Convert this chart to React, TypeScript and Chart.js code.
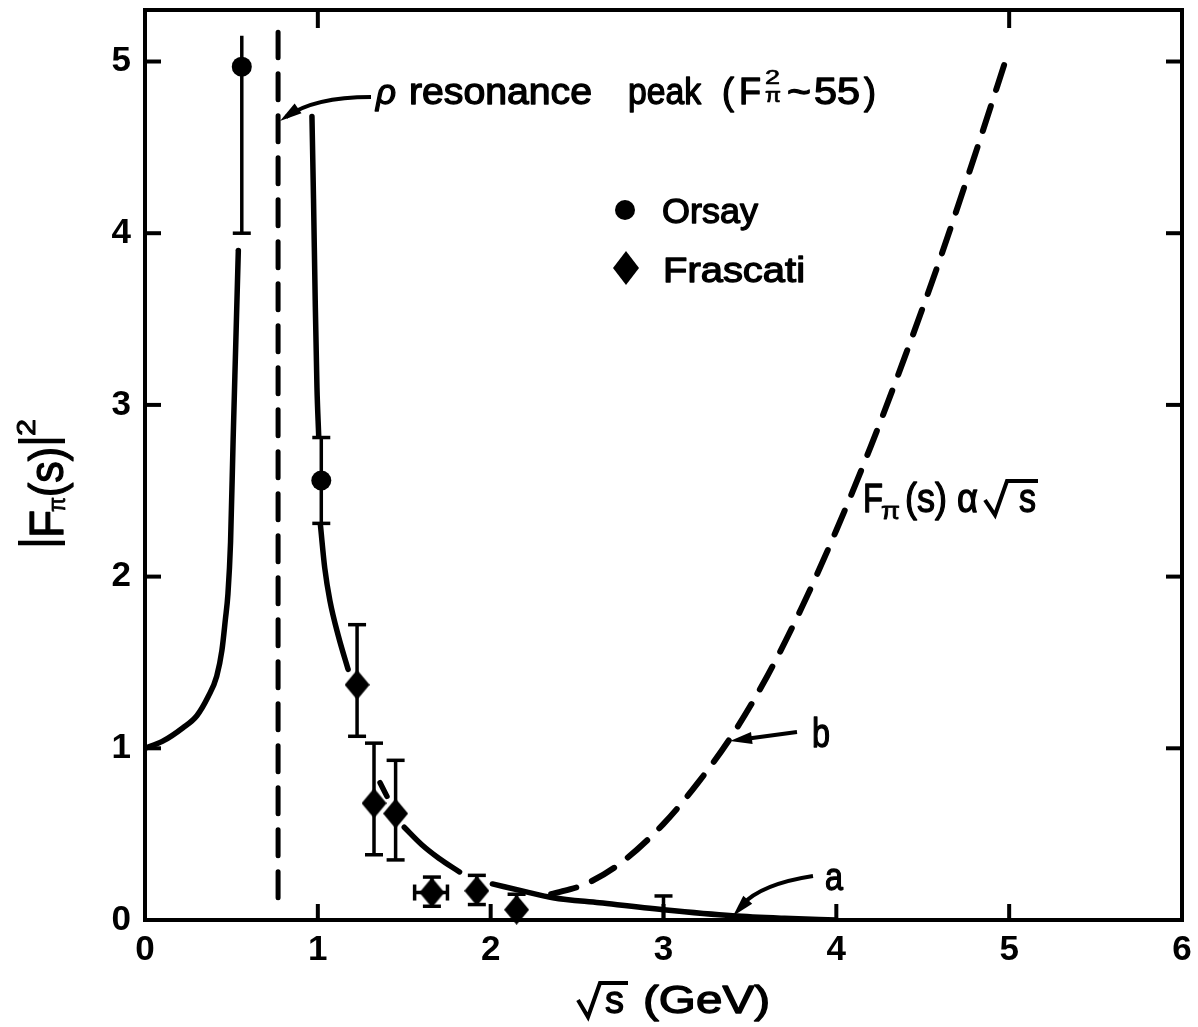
import React, { useEffect, useRef } from "react";
import { Chart, registerables } from "chart.js";
Chart.register(...registerables);

// ---- data ----
const xTickValues = [0, 1, 2, 3, 4, 5, 6];
const yTickValues = [0, 1, 2, 3, 4, 5];
const topTickValues = [1, 5];

const orsayX = [0.56, 1.02];
const orsayY = [4.97, 2.56];
const orsayLo = [4.0, 2.31];
const orsayHi = [5.15, 2.81];
const orsayTopCap = [false, true];

const frascatiX = [1.227, 1.325, 1.45, 1.66, 1.92, 2.15];
const frascatiY = [1.37, 0.68, 0.62, 0.16, 0.17, 0.06];
const frascatiLo = [1.07, 0.38, 0.35, 0.08, 0.09, 0.0];
const frascatiHi = [1.72, 1.03, 0.93, 0.25, 0.26, 0.15];
const frascatiXLo = [null, null, null, 1.56, null, null];
const frascatiXHi = [null, null, null, 1.75, null, null];

const limitX = [3.0];
const limitLo = [0.0];
const limitHi = [0.14];

const curveALeftX = [0, 0.1, 0.22, 0.3, 0.365, 0.415, 0.445, 0.465, 0.48, 0.495, 0.51, 0.525, 0.54];
const curveALeftY = [1.0, 1.04, 1.12, 1.19, 1.3, 1.42, 1.57, 1.75, 1.9, 2.2, 2.8, 3.35, 3.9];

const curveARightX = [0.966, 0.975, 0.985, 0.995, 1.005, 1.01, 1.015, 1.04, 1.07, 1.12, 1.175, 1.27, 1.36, 1.4, 1.45, 1.5, 1.6, 1.7, 1.82, 1.9, 2.01, 2.2, 2.36, 2.63, 3.0, 3.4, 3.7, 4.0];
const curveARightY = [4.68, 4.2, 3.6, 3.1, 2.82, null, 2.3, 2.05, 1.86, 1.65, 1.46, null, 0.8, 0.72, null, 0.54, 0.44, 0.36, 0.28, null, 0.21, 0.165, 0.13, 0.1, 0.06, 0.025, 0.01, 0.0];

const curveBX = [2.35, 2.55, 2.75, 3.0, 3.2, 3.4, 3.6, 3.8, 4.0, 4.2, 4.4, 4.6, 4.8, 5.0];
const curveBY = [0.15, 0.21, 0.33, 0.56, 0.8, 1.08, 1.42, 1.82, 2.27, 2.76, 3.29, 3.85, 4.45, 5.07];

const rhoPeakX = [0.77, 0.77];
const rhoPeakY = [0.13, 5.17];

const FONT = '"Liberation Sans", Arial, sans-serif';

function makeDiamond(w: number, h: number) {
  const c = document.createElement("canvas");
  c.width = w;
  c.height = h;
  const g = c.getContext("2d")!;
  g.fillStyle = "#000";
  g.beginPath();
  g.moveTo(w / 2, 0);
  g.lineTo(w, h / 2);
  g.lineTo(w / 2, h);
  g.lineTo(0, h / 2);
  g.closePath();
  g.fill();
  return c;
}

function fitText(ctx: CanvasRenderingContext2D, s: string, x: number, y: number, size: number, width?: number, italic = false, stroke = 1.3) {
  ctx.font = `${italic ? "italic " : ""}${size}px ${FONT}`;
  ctx.textAlign = "left";
  ctx.textBaseline = "alphabetic";
  const w = ctx.measureText(s).width;
  ctx.save();
  ctx.translate(x, y);
  if (width) ctx.scale(width / w, 1);
  ctx.fillText(s, 0, 0);
  if (stroke > 0) {
    ctx.lineWidth = stroke;
    ctx.lineJoin = "round";
    ctx.strokeText(s, 0, 0);
  }
  ctx.restore();
}

function seg(ctx: CanvasRenderingContext2D, x1: number, y1: number, x2: number, y2: number) {
  ctx.beginPath();
  ctx.moveTo(x1, y1);
  ctx.lineTo(x2, y2);
  ctx.stroke();
}

function arrowHead(ctx: CanvasRenderingContext2D, tx: number, ty: number, dx: number, dy: number, len: number, half: number) {
  const L = Math.hypot(dx, dy);
  const ux = dx / L, uy = dy / L;
  const bx = tx - ux * len, by = ty - uy * len;
  ctx.beginPath();
  ctx.moveTo(tx, ty);
  ctx.lineTo(bx - uy * half, by + ux * half);
  ctx.lineTo(bx + uy * half, by - ux * half);
  ctx.closePath();
  ctx.fill();
}

function radical(ctx: CanvasRenderingContext2D, x0: number, yMid: number, yBot: number, xBot: number, xTop: number, yTop: number, xEnd: number) {
  ctx.beginPath();
  ctx.moveTo(x0, yMid);
  ctx.lineTo(xBot, yBot);
  ctx.lineTo(xTop, yTop);
  ctx.lineTo(xEnd, yTop);
  ctx.stroke();
}

const decor = {
  id: "decor",
  beforeDraw(chart: any) {
    const { ctx, width, height } = chart;
    ctx.save();
    ctx.fillStyle = "#fff";
    ctx.fillRect(0, 0, width, height);
    ctx.restore();
  },
  beforeDatasetsDraw(chart: any) {
    const { ctx } = chart;
    const xs = chart.scales.x, ys = chart.scales.y;
    ctx.save();
    ctx.strokeStyle = "#000";
    ctx.lineWidth = 3.5;
    ctx.lineCap = "butt";
    const cap = 9;
    const vbar = (xv: number, lo: number, hi: number, capLo: boolean, capHi: boolean) => {
      const px = xs.getPixelForValue(xv);
      const pl = ys.getPixelForValue(lo);
      const ph = ys.getPixelForValue(hi);
      seg(ctx, px, pl, px, ph);
      if (capLo) seg(ctx, px - cap, pl, px + cap, pl);
      if (capHi) seg(ctx, px - cap, ph, px + cap, ph);
    };
    orsayX.forEach((xv, i) => vbar(xv, orsayLo[i], orsayHi[i], true, orsayTopCap[i]));
    frascatiX.forEach((xv, i) => {
      vbar(xv, frascatiLo[i], frascatiHi[i], frascatiLo[i] > 0, true);
      const xl = frascatiXLo[i], xh = frascatiXHi[i];
      if (xl !== null && xh !== null) {
        const py = ys.getPixelForValue(frascatiY[i]);
        const a = xs.getPixelForValue(xl), b = xs.getPixelForValue(xh);
        seg(ctx, a, py, b, py);
        seg(ctx, a, py - 8, a, py + 8);
        seg(ctx, b, py - 8, b, py + 8);
      }
    });
    limitX.forEach((xv, i) => vbar(xv, limitLo[i], limitHi[i], false, true));
    ctx.restore();
  },
  afterDraw(chart: any) {
    const { ctx, chartArea } = chart;
    const xs = chart.scales.x, ys = chart.scales.y;
    const { left, right, top, bottom } = chartArea;
    ctx.save();
    ctx.strokeStyle = "#000";
    ctx.fillStyle = "#000";
    ctx.lineCap = "butt";
    // frame
    ctx.lineWidth = 4;
    ctx.strokeRect(left, top, right - left, bottom - top);
    // inward ticks
    const tl = 16;
    yTickValues.filter((v) => v > 0).forEach((v) => {
      const py = ys.getPixelForValue(v);
      seg(ctx, left, py, left + tl, py);
      seg(ctx, right, py, right - tl, py);
    });
    xTickValues.filter((v) => v > 0 && v < 6).forEach((v) => {
      const px = xs.getPixelForValue(v);
      seg(ctx, px, bottom, px, bottom - tl);
    });
    topTickValues.forEach((v) => {
      const px = xs.getPixelForValue(v);
      seg(ctx, px, top, px, top + 18);
    });

    // legend
    ctx.beginPath();
    ctx.arc(625, 210, 10, 0, Math.PI * 2);
    ctx.fill();
    ctx.beginPath();
    ctx.moveTo(626, 251);
    ctx.lineTo(639, 268);
    ctx.lineTo(626, 285);
    ctx.lineTo(613, 268);
    ctx.closePath();
    ctx.fill();
    fitText(ctx, "Orsay", 662, 223, 35, 96);
    fitText(ctx, "Frascati", 663, 282, 35, 142);

    // rho annotation
    fitText(ctx, "\u03C1", 376, 104, 36, 20, true);
    fitText(ctx, "resonance", 409, 104, 36, 183);
    fitText(ctx, "peak", 628, 104, 36, 73);
    fitText(ctx, "(", 722, 104, 36, 12);
    fitText(ctx, "F", 739, 104, 36, 22);
    fitText(ctx, "2", 765, 84, 21, 15, false, 0.7);
    fitText(ctx, "\u03C0", 765, 102, 21, 16, false, 0.7);
    fitText(ctx, "~", 787, 104, 36, 24);
    fitText(ctx, "55", 814, 104, 36, 46);
    fitText(ctx, ")", 864, 104, 36, 12);
    ctx.lineWidth = 4;
    ctx.beginPath();
    ctx.moveTo(371, 97);
    ctx.quadraticCurveTo(314, 97, 286, 117);
    ctx.stroke();
    arrowHead(ctx, 280, 121, -33, 23, 22, 6);

    // F_pi(s) a sqrt(s)
    fitText(ctx, "F", 863, 512, 40, 20);
    fitText(ctx, "\u03C0", 881, 519, 24, 19, false, 0.8);
    fitText(ctx, "(s)", 905, 512, 40, 42);
    fitText(ctx, "\u03B1", 957, 512, 40, 21);
    ctx.lineWidth = 4;
    ctx.lineJoin = "miter";
    radical(ctx, 985, 500, 515, 995, 1007, 481, 1038);
    fitText(ctx, "s", 1019, 512, 40, 17);

    // b label and arrow
    fitText(ctx, "b", 812, 747, 40, 18);
    ctx.lineWidth = 4;
    seg(ctx, 797, 732, 745, 739);
    arrowHead(ctx, 730, 741, -67, 9, 22, 6);

    // a label and arrow
    fitText(ctx, "a", 825, 890, 38, 18);
    ctx.lineWidth = 4;
    ctx.beginPath();
    ctx.moveTo(813, 876);
    ctx.quadraticCurveTo(761, 884, 742, 905);
    ctx.stroke();
    arrowHead(ctx, 733, 916, -28, 31, 22, 6);

    // x axis title
    ctx.lineWidth = 4;
    radical(ctx, 578, 1000, 1017, 588, 600, 983, 628);
    fitText(ctx, "s", 605, 1013, 38, 19);
    fitText(ctx, "(GeV)", 643, 1013, 38, 127);

    // y axis title (rotated)
    ctx.save();
    ctx.translate(63, 547);
    ctx.rotate(-Math.PI / 2);
    ctx.lineWidth = 4.5;
    seg(ctx, 4, 2, 4, -45);
    fitText(ctx, "F", 9, 0, 48, 28);
    fitText(ctx, "\u03C0", 35, 2, 24, 15, false, 0.8);
    fitText(ctx, "(s)", 50, 0, 48, 50);
    ctx.lineWidth = 4.5;
    seg(ctx, 106, 2, 106, -45);
    fitText(ctx, "2", 111, -28, 26, 17, false, 1);
    ctx.restore();

    ctx.restore();
  },
};

export default function App() {
  const ref = useRef<HTMLCanvasElement>(null);
  useEffect(() => {
    const canvas = ref.current!;
    const diamond = makeDiamond(25, 30);
    const pts = (xs: number[], ys: (number | null)[]) => xs.map((x, i) => ({ x, y: ys[i] }));
    const tickFont = { family: FONT, size: 35, weight: "bold" };
    const chart = new Chart(canvas, {
      type: "scatter",
      data: {
        datasets: [
          {
            label: "Orsay",
            data: pts(orsayX, orsayY),
            pointStyle: "circle",
            pointRadius: 10,
            backgroundColor: "#000",
            borderColor: "#000",
            borderWidth: 0,
            showLine: false,
            clip: false,
          },
          {
            label: "Frascati",
            data: pts(frascatiX, frascatiY),
            pointStyle: diamond as any,
            pointRadius: 15,
            showLine: false,
            clip: false,
          },
          {
            label: "a-left",
            data: pts(curveALeftX, curveALeftY),
            showLine: true,
            borderColor: "#000",
            borderWidth: 5.5,
            pointRadius: 0,
            cubicInterpolationMode: "monotone",
            borderCapStyle: "round",
          },
          {
            label: "a-right",
            data: pts(curveARightX, curveARightY),
            showLine: true,
            spanGaps: false,
            borderColor: "#000",
            borderWidth: 5.5,
            pointRadius: 0,
            cubicInterpolationMode: "monotone",
            borderCapStyle: "round",
          },
          {
            label: "b",
            data: pts(curveBX, curveBY),
            showLine: true,
            borderColor: "#000",
            borderWidth: 6,
            borderDash: [26, 17],
            pointRadius: 0,
            cubicInterpolationMode: "monotone",
            borderCapStyle: "round",
          },
          {
            label: "rho",
            data: pts(rhoPeakX, rhoPeakY),
            showLine: true,
            borderColor: "#000",
            borderWidth: 5,
            borderDash: [26, 16],
            pointRadius: 0,
            borderCapStyle: "round",
          },
        ] as any,
      },
      options: {
        animation: false,
        responsive: true,
        maintainAspectRatio: false,
        events: [],
        layout: { autoPadding: false, padding: { left: 0, right: 16, top: 10, bottom: 0 } },
        plugins: { legend: { display: false }, tooltip: { enabled: false }, title: { display: false } },
        scales: {
          x: {
            type: "linear",
            min: 0,
            max: 6,
            afterBuildTicks: (s: any) => {
              s.ticks = xTickValues.map((v) => ({ value: v }));
            },
            afterFit: (s: any) => {
              s.height = 107;
              s.paddingLeft = 0;
              s.paddingRight = 0;
            },
            ticks: { font: tickFont, color: "#000", padding: 9, maxRotation: 0, autoSkip: false },
            grid: { display: false, drawTicks: false },
            border: { display: false },
          },
          y: {
            type: "linear",
            min: 0,
            max: 5.3,
            afterBuildTicks: (s: any) => {
              s.ticks = yTickValues.map((v) => ({ value: v }));
            },
            afterFit: (s: any) => {
              s.width = 145;
              s.paddingTop = 0;
              s.paddingBottom = 0;
            },
            ticks: { font: tickFont, color: "#000", padding: 14 },
            grid: { display: false, drawTicks: false },
            border: { display: false },
          },
        },
      } as any,
      plugins: [decor],
    });
    return () => chart.destroy();
  }, []);
  return (
    <div style={{ position: "fixed", left: 0, top: 0, width: 1198, height: 1027, background: "#fff" }}>
      <canvas ref={ref} />
    </div>
  );
}
